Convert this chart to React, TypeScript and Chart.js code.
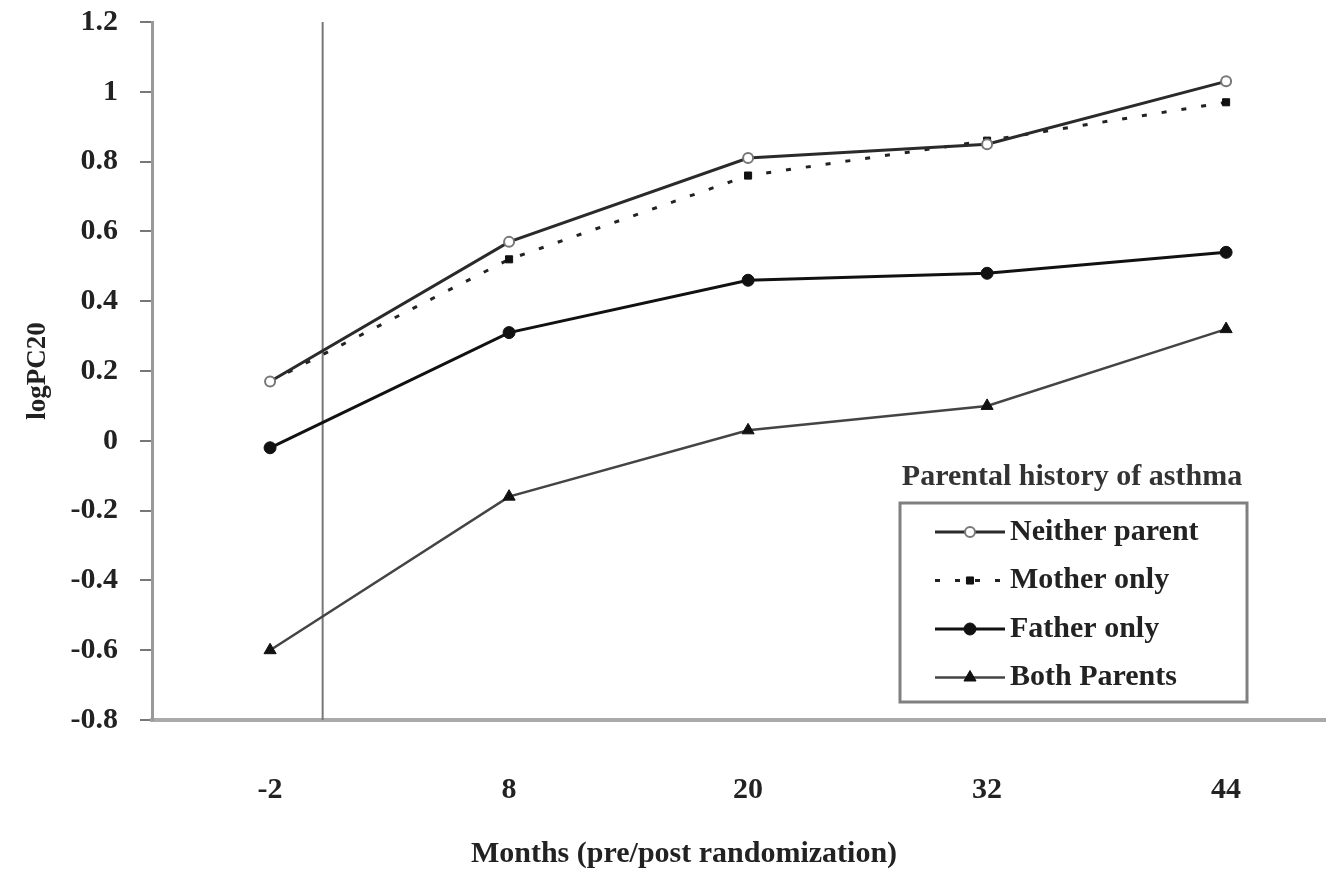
import React, { useEffect, useRef } from 'react';
import { Chart, registerables } from 'chart.js';
import { drawPoint } from 'chart.js/helpers';

Chart.register(...registerables);

const categories = ['-2', '8', '20', '32', '44'];
const neitherParent = [0.17, 0.57, 0.81, 0.85, 1.03];
const motherOnly = [0.17, 0.52, 0.76, 0.86, 0.97];
const fatherOnly = [-0.02, 0.31, 0.46, 0.48, 0.54];
const bothParents = [-0.6, -0.16, 0.03, 0.1, 0.32];
const yTickValues = [-0.8, -0.6, -0.4, -0.2, 0, 0.2, 0.4, 0.6, 0.8, 1, 1.2];
const randomizationIndex = 0.22;

const seriesNames = ['Neither parent', 'Mother only', 'Father only', 'Both Parents'];
const legendTitle = 'Parental history of asthma';
const xTitle = 'Months (pre/post randomization)';
const yTitle = 'logPC20';

const FONT = '"Liberation Serif", "Times New Roman", serif';

const toPoints = (vals: number[]) => vals.map((v, i) => ({ x: i, y: v }));

const vLinePlugin = {
  id: 'randomizationLine',
  beforeDatasetsDraw(chart: any) {
    const { ctx, chartArea, scales } = chart;
    const x = scales.x.getPixelForValue(randomizationIndex);
    ctx.save();
    ctx.strokeStyle = '#777';
    ctx.lineWidth = 2;
    ctx.beginPath();
    ctx.moveTo(x, chartArea.top);
    ctx.lineTo(x, chartArea.bottom);
    ctx.stroke();
    ctx.restore();
  },
};

const textPlugin = {
  id: 'extraText',
  afterDraw(chart: any) {
    const ctx = chart.ctx as CanvasRenderingContext2D;
    ctx.save();
    // x axis title
    ctx.fillStyle = '#222';
    ctx.font = `bold 30px ${FONT}`;
    ctx.textAlign = 'center';
    ctx.textBaseline = 'middle';
    ctx.fillText(xTitle, 684, 854);

    // legend
    ctx.fillStyle = '#333';
    ctx.font = `bold 30px ${FONT}`;
    ctx.fillText(legendTitle, 1072, 477);

    ctx.strokeStyle = '#808080';
    ctx.lineWidth = 3;
    ctx.strokeRect(900, 503, 347, 199);

    const rowY0 = 532;
    const rowGap = 48.5;
    chart.data.datasets.forEach((ds: any, i: number) => {
      const y = rowY0 + i * rowGap;
      ctx.save();
      ctx.strokeStyle = ds.borderColor;
      ctx.lineWidth = ds.borderWidth;
      ctx.setLineDash(ds.borderDash || []);
      ctx.beginPath();
      ctx.moveTo(935, y);
      ctx.lineTo(1005, y);
      ctx.stroke();
      ctx.setLineDash([]);
      ctx.fillStyle = ds.pointBackgroundColor;
      ctx.strokeStyle = ds.pointBorderColor;
      ctx.lineWidth = ds.pointBorderWidth;
      drawPoint(ctx, { pointStyle: ds.pointStyle, radius: ds.pointRadius, borderWidth: ds.pointBorderWidth, rotation: 0 } as any, 970, y);
      ctx.restore();
      ctx.fillStyle = '#222';
      ctx.font = `bold 30px ${FONT}`;
      ctx.textAlign = 'left';
      ctx.textBaseline = 'middle';
      ctx.fillText(ds.label, 1010, y);
    });
    ctx.restore();
  },
};

export default function App() {
  const ref = useRef<HTMLCanvasElement | null>(null);

  useEffect(() => {
    if (!ref.current) return;
    const chart = new Chart(ref.current, {
      type: 'line',
      data: {
        datasets: [
          {
            label: seriesNames[0],
            data: toPoints(neitherParent),
            borderColor: '#2a2a2a',
            borderWidth: 3,
            pointStyle: 'circle',
            pointRadius: 5,
            pointBackgroundColor: '#fff',
            pointBorderColor: '#777',
            pointBorderWidth: 2,
          },
          {
            label: seriesNames[1],
            data: toPoints(motherOnly),
            borderColor: '#222',
            borderWidth: 3,
            borderDash: [5, 15],
            pointStyle: 'rect',
            pointRadius: 5,
            pointBackgroundColor: '#111',
            pointBorderColor: '#111',
            pointBorderWidth: 1,
          },
          {
            label: seriesNames[2],
            data: toPoints(fatherOnly),
            borderColor: '#111',
            borderWidth: 3,
            pointStyle: 'circle',
            pointRadius: 6,
            pointBackgroundColor: '#111',
            pointBorderColor: '#111',
            pointBorderWidth: 1,
          },
          {
            label: seriesNames[3],
            data: toPoints(bothParents),
            borderColor: '#444',
            borderWidth: 2.5,
            pointStyle: 'triangle',
            pointRadius: 7,
            pointBackgroundColor: '#111',
            pointBorderColor: '#111',
            pointBorderWidth: 1,
          },
        ],
      },
      options: {
        animation: false,
        responsive: false,
        events: [],
        layout: { padding: { top: 22, right: 0, left: 0, bottom: 0 } },
        plugins: {
          legend: { display: false },
          tooltip: { enabled: false },
        },
        scales: {
          x: {
            type: 'linear',
            min: -0.494,
            max: 4.418,
            afterBuildTicks: (scale: any) => {
              scale.ticks = categories.map((_, i) => ({ value: i }));
            },
            afterFit: (scale: any) => {
              scale.height = 152;
              scale.paddingLeft = 0;
              scale.paddingRight = 0;
            },
            grid: { display: false },
            border: { display: true, color: '#aaa', width: 4 },
            ticks: {
              padding: 44,
              color: '#222',
              font: { family: FONT, size: 30, weight: 'bold' },
              callback: (v: any) => categories[v as number] ?? '',
              maxRotation: 0,
              autoSkip: false,
            },
            title: { display: false },
          },
          y: {
            type: 'linear',
            min: -0.8,
            max: 1.2,
            afterBuildTicks: (scale: any) => {
              scale.ticks = yTickValues.map((v) => ({ value: v }));
            },
            afterFit: (scale: any) => {
              scale.width = 152;
              scale.paddingTop = 0;
              scale.paddingBottom = 0;
            },
            grid: { display: true, drawOnChartArea: false, drawTicks: true, tickLength: 12, color: '#777', lineWidth: 2 },
            border: { display: true, color: '#999', width: 3 },
            ticks: {
              padding: 22,
              color: '#222',
              font: { family: FONT, size: 30, weight: 'bold' },
              callback: (v: any) => String(Number((v as number).toFixed(1))),
            },
            title: {
              display: true,
              text: yTitle,
              color: '#222',
              font: { family: FONT, size: 27, weight: 'bold' },
              padding: { top: 22, bottom: 0 },
            },
          },
        },
      },
      plugins: [vLinePlugin, textPlugin],
    } as any);
    return () => chart.destroy();
  }, []);

  return (
    <div style={{ position: 'fixed', left: 0, top: 0, width: 1326, height: 872, overflow: 'hidden', background: '#fff' }}>
      <canvas ref={ref} width={1334} height={872} style={{ width: 1334, height: 872, display: 'block' }} />
    </div>
  );
}
